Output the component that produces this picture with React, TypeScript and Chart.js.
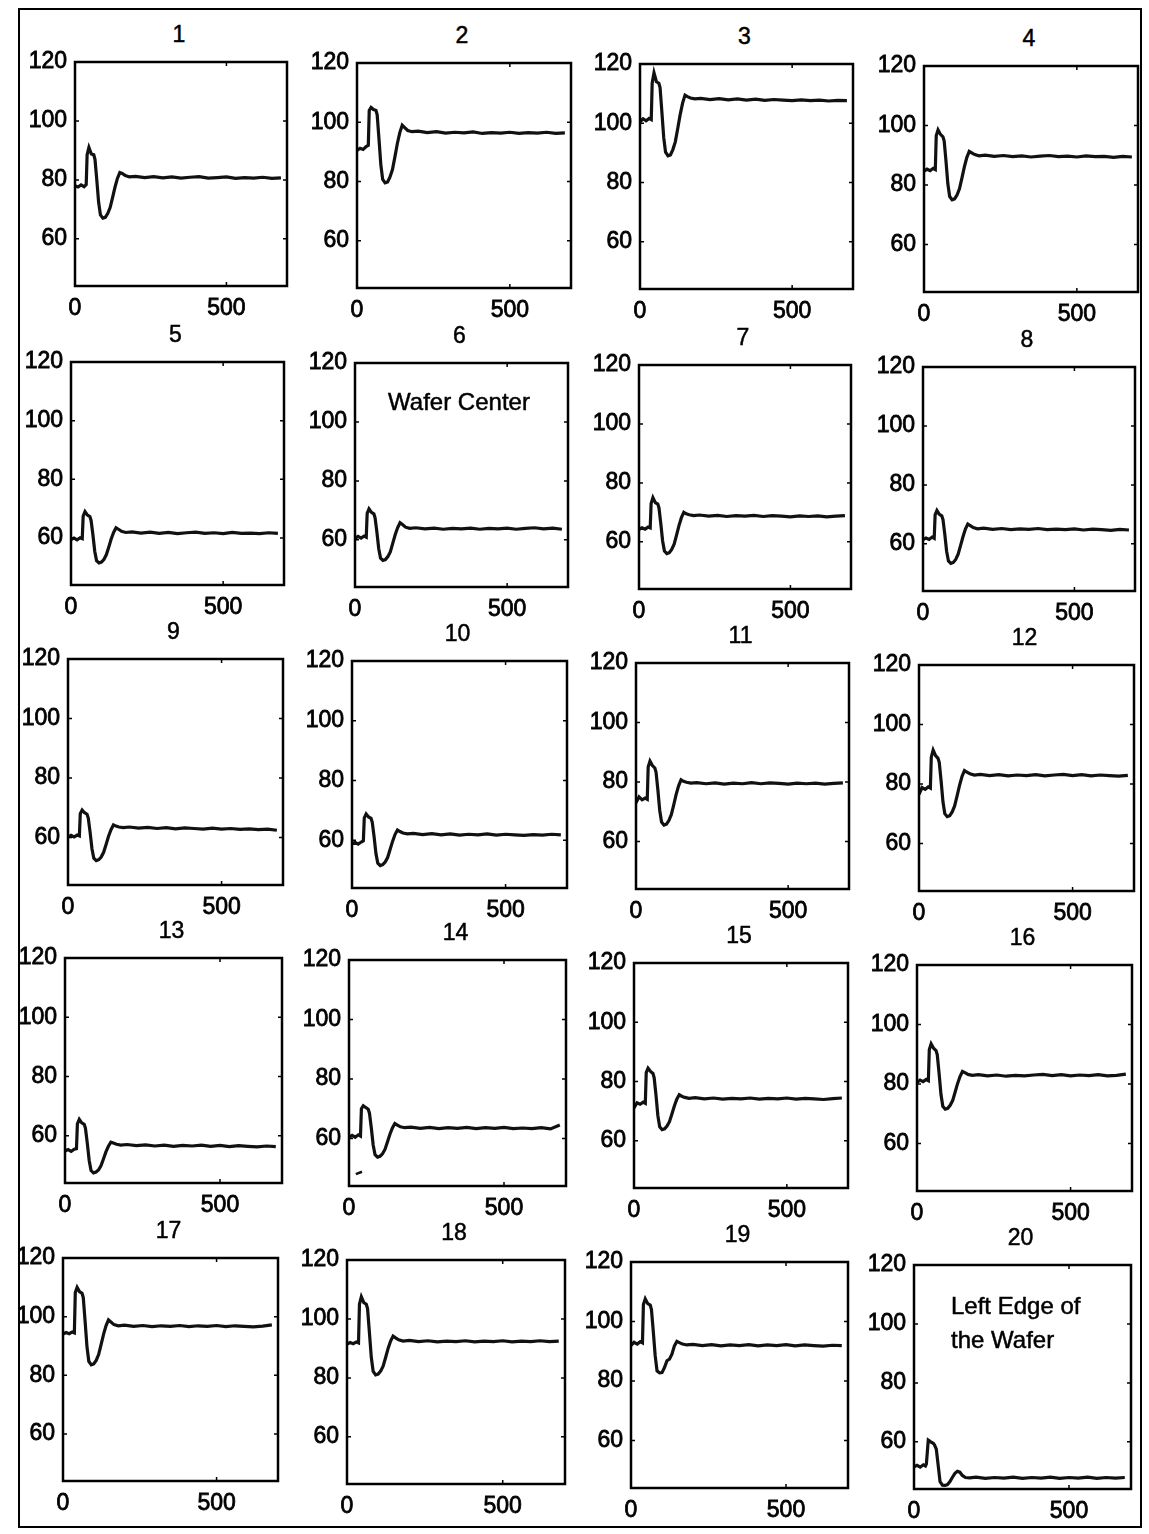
import React, { useEffect, useRef } from 'react';
import { Chart, registerables } from 'chart.js';

Chart.register(...registerables);

// ---------- data ----------
const X = [0, 10, 20, 30, 37, 40, 46, 54, 62, 66, 72, 78, 84, 92, 100, 108, 116, 124, 132, 140, 148, 156, 166,
  180, 200, 230, 260, 290, 320, 350, 380, 410, 440, 470, 500, 530, 560, 590, 620, 650, 680];

const Y_TICKS = [60, 80, 100, 120];
const X_TICKS = [0, 500];
const Y_MIN = 44;
const Y_MAX = 120;
const X_MIN = 0;
const X_MAX = 700;

const TITLES = ['1', '2', '3', '4', '5', '6', '7', '8', '9', '10', '11', '12', '13', '14', '15', '16', '17', '18', '19', '20'];

const s1 = [78, 77.6, 78.3, 77.7, 78.4, 88.5, 91, 88.8, 88.5, 87, 79.9, 72.4, 68.1, 67, 67.3, 68.6, 70.6, 74, 77.5, 80.5, 82.5, 82.2, 81.5,
  81, 81.2, 80.8, 81.1, 80.7, 81, 80.6, 80.9, 81.1, 80.6, 80.8, 81, 80.5, 80.8, 80.6, 80.9, 80.5, 80.7];
const s2 = [90.5, 91.2, 90.8, 91.8, 92.2, 104, 105, 104.3, 104, 102.5, 94.2, 85.6, 80.7, 79.5, 79.8, 81.5, 84, 88.3, 92.8, 96.5, 99, 98.2, 97.2,
  96.8, 97, 96.5, 96.8, 96.3, 96.6, 96.4, 96.7, 96.2, 96.5, 96.3, 96.6, 96.2, 96.5, 96.3, 96.6, 96.2, 96.4];
const s3 = [100.5, 101.5, 100.8, 101.6, 101.2, 113.5, 117, 114, 113.5, 112, 103.7, 95.1, 90.2, 89, 89.3, 91.1, 93.7, 98.2, 102.9, 106.8, 109.5, 109, 108.5,
  108.2, 108.4, 108, 108.3, 107.9, 108.2, 107.8, 108.1, 107.7, 108, 107.8, 107.6, 107.9, 107.6, 107.8, 107.5, 107.7, 107.6];
const s4 = [84.6, 85.3, 84.8, 85.6, 85.2, 96.5, 98.5, 97, 96.2, 94.8, 87.9, 80.4, 76.1, 75, 75.3, 76.6, 78.7, 82.3, 86.1, 89.2, 91.3, 90.8, 90.2,
  89.8, 90, 89.6, 89.9, 89.5, 89.8, 89.4, 89.7, 89.9, 89.5, 89.7, 89.4, 89.8, 89.5, 89.6, 89.3, 89.6, 89.4];
const s5 = [59.5, 60, 59.4, 60.1, 59.8, 67.5, 69, 67.8, 67.3, 66, 61.1, 55.5, 52.3, 51.5, 51.8, 52.7, 54.3, 56.9, 59.7, 61.9, 63.5, 63, 62.3,
  61.9, 62.1, 61.7, 62, 61.6, 61.9, 61.5, 61.8, 62, 61.6, 61.8, 61.5, 61.9, 61.6, 61.7, 61.5, 61.8, 61.6];
const s6 = [60.5, 61.2, 60.6, 61.3, 60.9, 69, 70.5, 69.3, 68.8, 67.5, 62.6, 57, 53.8, 53, 53.3, 54.3, 55.9, 58.8, 61.7, 64.1, 65.8, 65.2, 64.3,
  63.9, 64.1, 63.7, 64, 63.6, 63.9, 63.7, 64, 63.6, 63.9, 63.7, 64, 63.6, 63.9, 64.1, 63.7, 64, 63.6];
const s7 = [64.2, 64.8, 64.3, 65, 64.7, 73, 75, 73.3, 72.8, 71.5, 66.2, 60.3, 56.9, 56, 56.3, 57.4, 59.2, 62.3, 65.5, 68.2, 70, 69.5, 69.2,
  68.9, 69.1, 68.7, 69, 68.6, 68.9, 68.7, 69, 68.6, 68.9, 68.7, 68.5, 68.8, 68.6, 68.8, 68.5, 68.7, 68.9];
const s8 = [61.4, 62, 61.5, 62.3, 61.9, 69.8, 71.3, 70, 69.5, 68.2, 63.2, 57.5, 54.2, 53.4, 53.7, 54.7, 56.5, 59.4, 62.4, 65, 66.7, 66.2, 65.5,
  65.1, 65.3, 64.9, 65.2, 64.8, 65.1, 64.9, 65.2, 64.8, 65, 64.8, 65.1, 64.7, 65, 64.8, 64.6, 64.9, 64.7];
const s9 = [60.1, 60.7, 60.2, 60.8, 60.5, 68, 69.2, 68.3, 67.8, 66.5, 61.7, 56.2, 53, 52.2, 52.5, 53.4, 55, 57.6, 60.4, 62.6, 64.2, 63.8, 63.5,
  63.3, 63.5, 63.1, 63.4, 63, 63.3, 62.9, 63.2, 63, 62.8, 63.1, 62.8, 63, 62.7, 62.9, 62.6, 62.8, 62.4];
const s10 = [58.8, 59.3, 58.7, 59.4, 59.8, 67.5, 68.8, 67.8, 67.3, 66, 61.1, 55.5, 52.3, 51.5, 51.8, 52.7, 54.2, 56.9, 59.6, 61.9, 63.4, 62.9, 62.4,
  62.1, 62.3, 61.9, 62.2, 61.8, 62.1, 61.7, 62, 61.8, 62.1, 61.7, 62, 61.8, 61.6, 61.9, 61.7, 62, 61.8];
const s11 = [73, 75, 74, 74.6, 74.2, 85, 87, 85.5, 84.7, 83.2, 77.2, 70.4, 66.5, 65.5, 65.8, 67, 69, 72.3, 75.8, 78.7, 80.7, 80.2, 79.9,
  79.6, 79.8, 79.4, 79.7, 79.3, 79.6, 79.4, 79.8, 79.4, 79.7, 79.5, 79.3, 79.6, 79.4, 79.6, 79.3, 79.5, 79.7];
const s12 = [76.5, 78.8, 78.2, 79, 78.6, 89, 91.4, 89.5, 88.6, 87.2, 81, 74, 70, 69, 69.3, 70.6, 72.6, 76, 79.5, 82.5, 84.5, 84, 83.4,
  83, 83.2, 82.8, 83.1, 82.7, 83, 82.8, 83.1, 82.7, 83, 83.2, 82.8, 83.1, 82.7, 83, 82.8, 82.6, 82.9];
const s13 = [54.8, 55.3, 54.7, 55.4, 55.6, 64, 65.5, 64.3, 63.8, 62.5, 57.4, 51.6, 48.2, 47.4, 47.7, 48.4, 49.8, 52.1, 54.5, 56.4, 57.8, 57.5, 57.1,
  56.8, 57, 56.6, 56.9, 56.5, 56.8, 56.4, 56.7, 56.5, 56.8, 56.4, 56.7, 56.3, 56.6, 56.4, 56.2, 56.5, 56.3];
const s14 = [60.3, 61, 60.4, 61.2, 60.8, 70, 71, 70.4, 69.8, 68.5, 63.5, 57.8, 54.5, 53.7, 54, 54.8, 56.3, 58.8, 61.4, 63.5, 65, 64.5, 63.9,
  63.6, 63.8, 63.4, 63.7, 63.3, 63.6, 63.4, 63.7, 63.3, 63.6, 63.4, 63.7, 63.3, 63.5, 63.3, 63.6, 63.2, 64.5];
const s15 = [71, 72.8, 72.3, 73, 72.6, 83, 84.5, 83.4, 82.7, 81.2, 75.3, 68.5, 64.7, 63.7, 64, 64.9, 66.4, 69, 71.7, 74, 75.5, 75, 74.6,
  74.3, 74.5, 74.1, 74.4, 74, 74.3, 74.1, 74.4, 74, 74.3, 74.1, 74.4, 74, 74.3, 74.1, 73.9, 74.2, 74.4];
const s16 = [80.5, 81.3, 80.8, 81.5, 81.1, 91.5, 93.5, 92, 91.2, 89.8, 83.5, 76.5, 72.5, 71.5, 71.8, 72.8, 74.4, 77.2, 80.1, 82.5, 84.2, 83.8, 83.2,
  82.9, 83.1, 82.7, 83, 82.6, 82.9, 82.7, 83, 83.2, 82.8, 83.1, 82.7, 83, 82.8, 83.1, 82.7, 82.9, 83.3];
const s17 = [94.1, 94.6, 94.2, 94.8, 94.5, 108.2, 110, 108.5, 108, 106.5, 98.4, 89.8, 84.8, 83.6, 83.9, 85.1, 87.1, 90.5, 94, 96.9, 98.9, 98.2, 97.3,
  96.9, 97.1, 96.7, 97, 96.6, 96.9, 96.7, 97, 96.6, 96.9, 96.7, 97, 96.6, 96.9, 96.7, 96.5, 96.8, 97.2];
const s18 = [91.5, 92, 91.6, 92.2, 91.9, 105, 107.5, 105.5, 105, 103.5, 95.4, 87, 82.2, 81, 81.3, 82.3, 84, 86.9, 90, 92.5, 94.2, 93.6, 92.9,
  92.5, 92.7, 92.3, 92.6, 92.2, 92.5, 92.3, 92.6, 92.2, 92.5, 92.3, 92.6, 92.2, 92.5, 92.3, 92.6, 92.3, 92.5];
const s19 = [92, 93, 92.4, 93.2, 92.8, 105.7, 107.6, 106, 105.5, 104, 96.5, 88.5, 83.4, 82.7, 82.8, 84.5, 86.8, 87.3, 89, 91.8, 93.3, 92.9, 92.4,
  92.1, 92.3, 91.9, 92.2, 91.8, 92.1, 91.9, 92.2, 91.8, 92.1, 91.9, 92.2, 91.8, 92.1, 91.9, 91.7, 92, 91.9];
const s20 = [51.5, 52, 51.4, 52.2, 51.8, 52.5, 60.6, 60, 59.5, 59, 57.5, 52, 46.5, 45.3, 45.2, 45.5, 46.5, 48, 49.3, 50, 49.7, 48.6, 47.9,
  47.8, 48, 47.6, 47.9, 47.7, 48, 47.6, 47.9, 47.7, 48, 47.6, 47.9, 47.7, 48, 47.6, 47.9, 47.7, 47.9];

const SERIES = [s1, s2, s3, s4, s5, s6, s7, s8, s9, s10, s11, s12, s13, s14, s15, s16, s17, s18, s19, s20];

// small stray trace segment visible inside panel 14
const SPECK_X = [22, 42];
const SPECK_Y = [48, 48.8];

// ---------- layout (plot box: left, top, right, bottom in page px) ----------
const BOXES = [
  [75, 62, 287, 286], [357, 63, 571, 288], [640, 64, 853, 289], [924, 66, 1138, 292],
  [71, 362, 284, 585], [355, 363, 568, 587], [639, 365, 851, 589], [923, 367, 1135, 591],
  [68, 659, 283, 885], [352, 661, 567, 888], [636, 663, 849, 889], [919, 665, 1134, 891],
  [65, 958, 282, 1183], [349, 960, 566, 1186], [634, 963, 848, 1188], [917, 965, 1132, 1191],
  [63, 1258, 278, 1481], [347, 1260, 565, 1484], [631, 1262, 848, 1488], [914, 1265, 1131, 1489],
];

const YW = 62;   // y-axis label band
const XH = 36;   // x-axis label band
const PT = 26;   // top padding (covers the half-height of the top tick label)
const PR = 4;    // right padding
const FONT = '"Liberation Sans", Arial, Helvetica, sans-serif';

const framePlugin = {
  id: 'frame',
  afterDatasetsDraw(chart: any) {
    const { ctx, chartArea: a, scales } = chart;
    ctx.save();
    ctx.strokeStyle = '#000';
    ctx.lineWidth = 2.5;
    ctx.strokeRect(a.left, a.top, a.right - a.left, a.bottom - a.top);
    ctx.lineWidth = 1.5;
    ctx.beginPath();
    for (const v of Y_TICKS) {
      const y = scales.y.getPixelForValue(v);
      ctx.moveTo(a.left, y); ctx.lineTo(a.left + 4, y);
      ctx.moveTo(a.right, y); ctx.lineTo(a.right - 4, y);
    }
    for (const v of X_TICKS) {
      const x = scales.x.getPixelForValue(v);
      ctx.moveTo(x, a.bottom); ctx.lineTo(x, a.bottom - 4);
      ctx.moveTo(x, a.top); ctx.lineTo(x, a.top + 4);
    }
    ctx.stroke();
    ctx.restore();
  },
};

const tickStyle = { color: '#000', font: { family: FONT, size: 23 }, textStrokeColor: '#000', textStrokeWidth: 0.8 };
const htmlText: React.CSSProperties = { fontFamily: FONT, color: '#000', WebkitTextStroke: '0.5px #000' } as any;

function Panel({ idx }: { idx: number }) {
  const ref = useRef<HTMLCanvasElement | null>(null);
  const [L, T, R, B] = BOXES[idx];
  const w = YW + (R - L) + PR;
  const h = PT + (B - T) + XH;

  useEffect(() => {
    if (!ref.current) return;
    const vals = SERIES[idx];
    const datasets: any[] = [{
      data: X.map((x, i) => ({ x, y: vals[i] })),
      borderColor: '#111',
      borderWidth: 3.2,
      pointRadius: 0,
      tension: 0,
      fill: false,
    }];
    if (idx === 13) {
      datasets.push({
        data: SPECK_X.map((x, i) => ({ x, y: SPECK_Y[i] })),
        borderColor: '#111',
        borderWidth: 2.5,
        pointRadius: 0,
        fill: false,
      });
    }
    const chart = new Chart(ref.current, {
      type: 'line',
      data: { datasets },
      options: {
        animation: false,
        responsive: false,
        maintainAspectRatio: false,
        layout: { padding: { top: PT, right: PR, left: 0, bottom: 0 } },
        plugins: { legend: { display: false }, tooltip: { enabled: false }, title: { display: false } },
        scales: {
          x: {
            type: 'linear',
            min: X_MIN,
            max: X_MAX,
            grid: { display: false, drawTicks: false },
            border: { display: false },
            ticks: { ...tickStyle, padding: 9, maxRotation: 0 },
            afterBuildTicks: (s: any) => { s.ticks = X_TICKS.map((v) => ({ value: v })); },
            afterFit: (s: any) => { s.height = XH; },
          },
          y: {
            type: 'linear',
            min: Y_MIN,
            max: Y_MAX,
            grid: { display: false, drawTicks: false },
            border: { display: false },
            ticks: { ...tickStyle, padding: 8 },
            afterBuildTicks: (s: any) => { s.ticks = Y_TICKS.map((v) => ({ value: v })); },
            afterFit: (s: any) => { s.width = YW; },
          },
        },
      },
      plugins: [framePlugin],
    } as any);
    return () => chart.destroy();
  }, [idx]);

  return (
    <>
      <div style={{
        ...htmlText,
        position: 'absolute', left: (L + R) / 2 - 2 - 40, top: T - 28 - 14, width: 80, height: 28,
        lineHeight: '28px', textAlign: 'center', fontSize: 23,
      }}>{TITLES[idx]}</div>
      <canvas ref={ref} width={w} height={h}
        style={{ position: 'absolute', left: L - YW, top: T - PT, width: w, height: h }} />
    </>
  );
}

export default function App() {
  return (
    <div style={{ position: 'absolute', left: 0, top: 0, width: 1149, height: 1534, background: '#fff', overflow: 'hidden' }}>
      <div style={{ position: 'absolute', left: 18, top: 8, width: 1124, height: 1520, border: '2px solid #000', boxSizing: 'border-box' }} />
      {BOXES.map((_, i) => <Panel key={i} idx={i} />)}
      <div style={{
        ...htmlText,
        position: 'absolute', left: 459, top: 402 - 16, transform: 'translateX(-50%)', whiteSpace: 'nowrap',
        fontSize: 24, lineHeight: '32px',
      }}>Wafer Center</div>
      <div style={{
        ...htmlText,
        position: 'absolute', left: 951, top: 1306 - 17, whiteSpace: 'nowrap',
        fontSize: 24, lineHeight: '34px',
      }}>Left Edge of<br />the Wafer</div>
    </div>
  );
}
